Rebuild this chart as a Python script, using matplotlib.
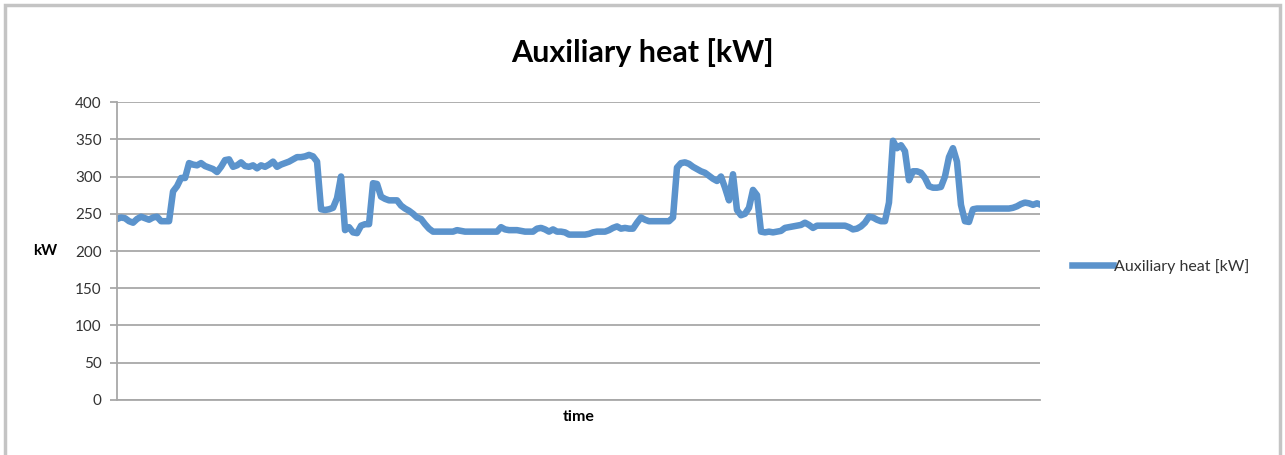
import matplotlib.pyplot as plt
from matplotlib.patches import Rectangle

# hourly auxiliary heat readings (kW)
aux_heat = [
    243, 245, 244, 240, 238, 243, 246, 244, 242, 245,
    246, 240, 240, 240, 280, 287, 298, 298, 318, 316,
    315, 318, 314, 312, 310, 306, 313, 322, 323, 313,
    315, 319, 314, 313, 315, 311, 315, 313, 316, 320,
    313, 316, 318, 320, 323, 326, 326, 327, 329, 327,
    320, 256, 255, 256, 258, 271, 300, 228, 232, 225,
    224, 234, 236, 236, 291, 290, 273, 270, 268, 268,
    268, 261, 257, 254, 250, 245, 243, 236, 230, 226,
    226, 226, 226, 226, 226, 228, 227, 226, 226, 226,
    226, 226, 226, 226, 226, 226, 232, 229, 228, 228,
    228, 227, 226, 226, 226, 230, 231, 229, 226, 229,
    226, 226, 225, 222, 222, 222, 222, 222, 223, 225,
    226, 226, 226, 228, 231, 233, 230, 231, 230, 230,
    238, 245, 242, 240, 240, 240, 240, 240, 240, 245,
    312, 318, 319, 317, 313, 310, 307, 305, 301, 297,
    294, 300, 285, 268, 303, 255, 248, 250, 258, 282,
    275, 226, 225, 226, 225, 226, 227, 231, 232, 233,
    234, 235, 238, 235, 231, 234, 234, 234, 234, 234,
    234, 234, 234, 232, 229, 230, 233, 238, 246, 245,
    242, 240, 240, 265, 348, 338, 342, 334, 295, 307,
    307, 305, 298, 287, 285, 285, 286, 300, 326, 338,
    320, 262, 240, 239, 256, 257, 257, 257, 257, 257,
    257, 257, 257, 257, 258, 260, 263, 265, 264, 262,
    264, 262,
]
y_ticks = [0, 50, 100, 150, 200, 250, 300, 350, 400]
series_name = 'Auxiliary heat [kW]'

plt.rcParams['font.family'] = ['Lato', 'DejaVu Sans']

fig = plt.figure(figsize=(12.85, 4.55), dpi=100)
ax = fig.add_axes([0.0911, 0.1209, 0.7182, 0.6549])

grid_col = '#a8a8a8'
ax.plot(range(len(aux_heat)), aux_heat, color='#5b93cc', lw=4.7,
        solid_joinstyle='round', label=series_name)

ax.set_xlim(0, 230.75)
ax.set_ylim(0, 400)
ax.set_yticks(y_ticks)
ax.set_xticks([])
ax.yaxis.grid(True, color=grid_col, lw=1.3)
ax.set_axisbelow(True)
for s in ['top', 'right']:
    ax.spines[s].set_visible(False)
for s in ['left', 'bottom']:
    ax.spines[s].set_color(grid_col)
    ax.spines[s].set_linewidth(1.3)
ax.tick_params(axis='y', length=5, color=grid_col, width=1.3,
               labelsize=11, labelcolor='#333333', pad=6)

ax.set_ylabel('kW', rotation=0, fontsize=11, fontweight='bold', va='center')
ax.yaxis.set_label_coords(-0.078, 0.5)
ax.set_xlabel('time', fontsize=11.5, fontweight='bold', labelpad=7)

fig.text(0.5, 0.885, series_name, ha='center', va='center',
         fontsize=22, fontweight='bold')

fig.legend(loc='center left', bbox_to_anchor=(0.823, 0.415), frameon=False,
           fontsize=11.5, handlelength=2.6, handletextpad=0.05,
           labelcolor='#333333')

# chart frame like the spreadsheet export
fig.patches.append(Rectangle((5 / 1285, -0.05), 1275 / 1285, 1.04,
                             transform=fig.transFigure, fill=False,
                             edgecolor='#c4c4c4', lw=2.5))

fig.savefig('out.png', dpi=100)
